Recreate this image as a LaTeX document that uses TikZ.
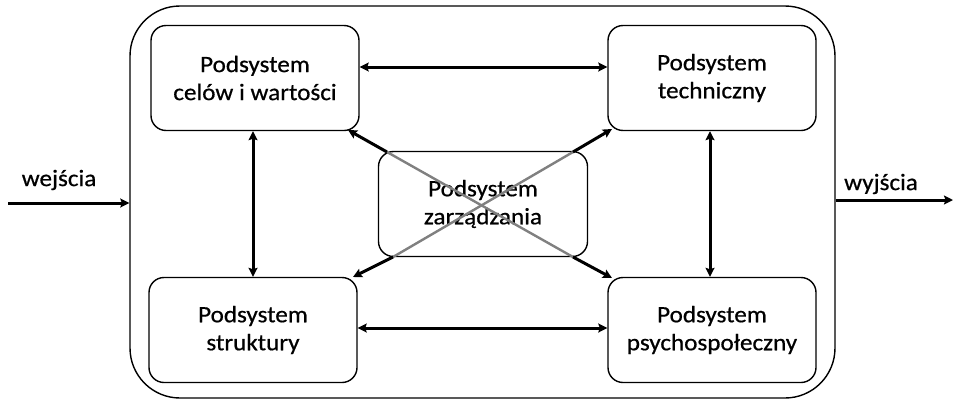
\documentclass[tikz,border=0pt]{standalone}
\usepackage{fontspec}
\setmainfont{Carlito}[FakeStretch=1.07,FakeBold=0.6]
\usetikzlibrary{arrows.meta}
\begin{document}
\begin{tikzpicture}[x=1pt,y=-1pt,font=\fontsize{23.5}{28}\selectfont,
  box/.style={draw,rounded corners=15pt,minimum width=208pt,minimum height=105pt,align=center,line width=1.4pt,inner sep=0pt},
  tip/.tip={Stealth[length=9pt,width=9pt,inset=1.5pt]},
  arr/.style={line width=3pt,-tip},
  darr/.style={line width=3pt,tip-tip},
  xline/.style={draw=black!50,line width=2.4pt},
  lbl/.style={inner sep=0pt}]
\useasboundingbox (0,0) rectangle (953,402);
\node[draw,line width=1.4pt,rounded corners=50pt,minimum width=705pt,minimum height=392pt] (sys) at (482.5,202) {};
\node[box] (tl) at (255,78) {Podsystem\\celów i wartości};
\node[box] (tr) at (712,78) {Podsystem\\techniczny};
\node[box] (bl) at (253,330) {Podsystem\\struktury};
\node[box] (br) at (712,330) {Podsystem\\psychospołeczny};
\node[box,minimum width=209pt] (c) at (483,204) {Podsystem\\zarządzania};
% gray cross
\coordinate (c1) at (387,152);
\coordinate (c2) at (573,152);
\coordinate (c3) at (393,257);
\coordinate (c4) at (573,257);
\draw[xline] (c1) -- (c4);
\draw[xline] (c3) -- (c2);
% diagonal arrows
\coordinate (e1) at (348,130);
\coordinate (e2) at (612,129);
\coordinate (e3) at (353,277);
\coordinate (e4) at (612,278);
\draw[arr] (c1) -- (e1);
\draw[arr] (c2) -- (e2);
\draw[arr] (c3) -- (e3);
\draw[arr] (c4) -- (e4);
% straight double arrows
\draw[darr] ([yshift=11pt]tl.east) -- ([yshift=11pt]tr.west);
\draw[darr] ([yshift=2pt]bl.east) -- ([yshift=2pt]br.west);
\draw[darr] (bl.north) -- (bl.north |- tl.south);
\draw[darr] ([xshift=-2pt]br.north) -- ([xshift=-2pt]tr.south);
% input / output
\coordinate (in) at (8,203);
\coordinate (out) at (953,200);
\draw[arr] (in) -- (in -| sys.west);
\draw[arr] (out -| sys.east) -- (out);
\node[lbl] (win) at (59,180) {wejścia};
\node[lbl] (wout) at (881,184) {wyjścia};
\end{tikzpicture}
\end{document}
